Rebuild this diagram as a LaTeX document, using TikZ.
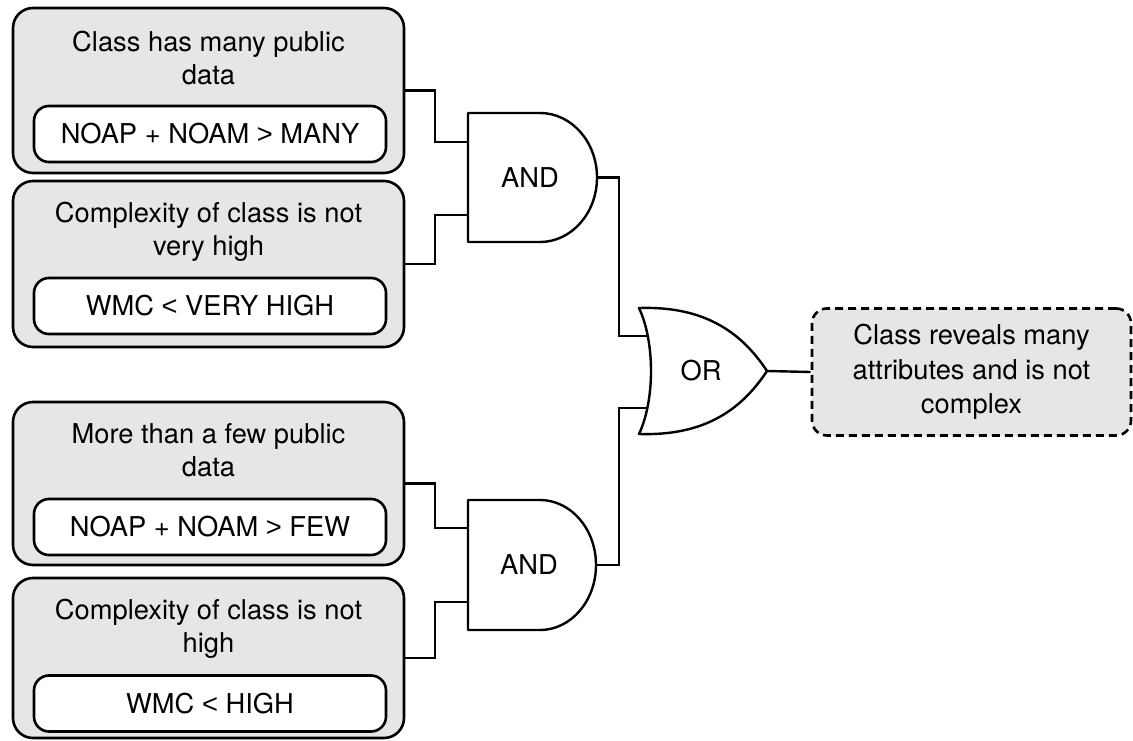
\documentclass[tikz,border=0pt]{standalone}
\usepackage{fontspec}
\setmainfont{TeX Gyre Heros}
\newfontfamily\relfont{Liberation Sans}
\newcommand{\relgt}{{\relfont >}}
\newcommand{\rellt}{{\relfont <}}
\definecolor{boxgray}{RGB}{230,230,230}
\tikzset{
  outerbox/.style={draw=black, line width=2.6pt, fill=boxgray, rounded corners=20pt, inner sep=0pt},
  innerbox/.style={draw=black, line width=2.6pt, fill=white, rounded corners=15pt, minimum width=352pt, minimum height=56pt, inner sep=0pt},
  titletext/.style={anchor=north, align=center, inner sep=0pt},
  resultbox/.style={draw=black, line width=2.6pt, fill=boxgray, rounded corners=15pt, dash pattern=on 8pt off 5pt, align=center, inner sep=0pt},
  wire/.style={draw=black, line width=2.4pt},
  gate/.style={draw=black, line width=2.4pt, fill=white, line join=round},
  gatelabel/.style={inner sep=0pt}
}
\begin{document}
\begin{tikzpicture}[x=1pt, y=-1pt, font=\fontsize{27.3}{33}\selectfont]
\useasboundingbox (0,0) rectangle (1133,741);

% ---- left boxes ----
\node[outerbox, minimum width=391pt, minimum height=165pt] (b1) at (208.5,90.5) {};
\node[titletext] (t1) at ([yshift=-24pt]b1.north) {Class has many public\\data};
\node[innerbox] (c1) at (210,134) {NOAP + NOAM \relgt{} MANY};

\node[outerbox, minimum width=391pt, minimum height=166pt] (b2) at (208.5,264) {};
\node[titletext] (t2) at ([yshift=-22.5pt]b2.north) {Complexity of class is not\\very high};
\node[innerbox] (c2) at (210,306) {WMC \rellt{} VERY HIGH};

\node[outerbox, minimum width=391pt, minimum height=163pt] (b3) at (208.5,483.5) {};
\node[titletext] (t3) at ([yshift=-23pt]b3.north) {More than a few public\\data};
\node[innerbox] (c3) at (210,527) {NOAP + NOAM \relgt{} FEW};

\node[outerbox, minimum width=391pt, minimum height=160pt] (b4) at (208.5,658) {};
\node[titletext] (t4) at ([yshift=-22pt]b4.north) {Complexity of class is not\\high};
\node[innerbox] (c4) at (210,703.5) {WMC \rellt{} HIGH};

% ---- gates ----
\draw[gate] (468,113) -- (540,113) arc[start angle=90, end angle=-90, x radius=57pt, y radius=64.5pt] -- (468,242) -- cycle;
\node[gatelabel] (and1) at (530,178) {AND};
\coordinate (a1i1) at (468,142);
\coordinate (a1i2) at (468,215);
\coordinate (a1o) at (597,177.5);

\draw[gate] (468,500) -- (540,500) arc[start angle=90, end angle=-90, x radius=56pt, y radius=65pt] -- (468,630) -- cycle;
\node[gatelabel] (and2) at (529,565) {AND};
\coordinate (a2i1) at (468,528);
\coordinate (a2i2) at (468,602);
\coordinate (a2o) at (596,565);

\draw[gate] (639,308) .. controls (702,306) and (740,330) .. (767,371)
  .. controls (740,412) and (702,436) .. (639,434)
  .. controls (655,400) and (655,342) .. (639,308) -- cycle;
\node[gatelabel] (or) at (701,371) {OR};
\coordinate (oi1) at (647,336);
\coordinate (oi2) at (647,408);
\coordinate (oo) at (767,371);

% ---- result ----
\node[resultbox, minimum width=319pt, minimum height=127pt, font=\fontsize{27.3}{34.5}\selectfont] (res) at (971.5,372) {Class reveals many\\attributes and is not\\complex};

% ---- wires ----
\draw[wire] (b1.east) -- ++(29.5,0) |- (a1i1);
\draw[wire] (b2.east) -- ++(29.5,0) |- (a1i2);
\draw[wire] (b3.east) -- ++(29.5,0) |- (a2i1);
\draw[wire] (b4.east) -- ++(29.5,0) |- (a2i2);
\draw[wire] (a1o) -- ++(22,0) |- (oi1);
\draw[wire] (a2o) -- ++(23,0) |- (oi2);
\draw[wire] (oo) -- (res.west);
\end{tikzpicture}
\end{document}
